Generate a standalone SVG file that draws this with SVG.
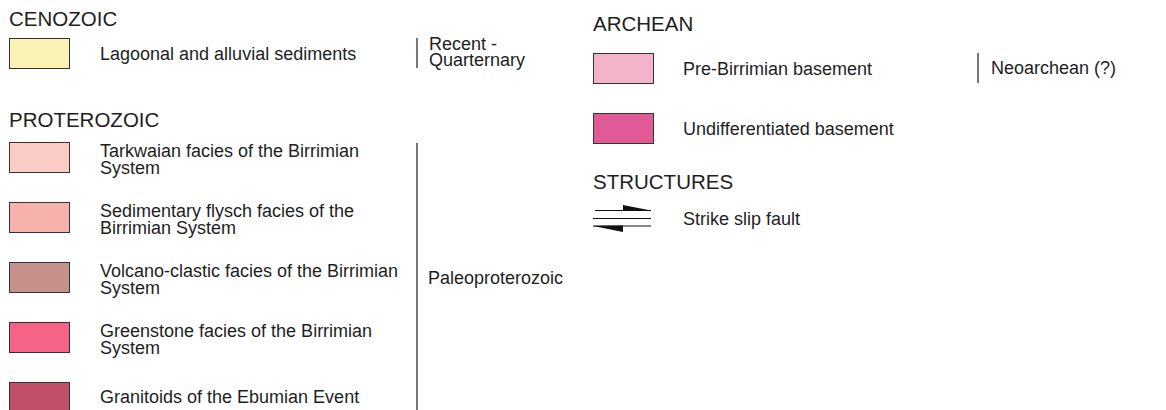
<svg xmlns="http://www.w3.org/2000/svg" width="1166" height="410" viewBox="0 0 1166 410">
<style>
text{font-family:"Liberation Sans",Arial,Helvetica,sans-serif;fill:#1e1e1e}
.t{font-size:20.5px}
.b{font-size:18px}
.sw{stroke:#333;stroke-width:1}
.bar{stroke:#555;stroke-width:1.6}
</style>
<rect width="1166" height="410" fill="#fff"/>
<g id="titles">
<text class="t" x="9" y="26">CENOZOIC</text>
<text class="t" x="9" y="127">PROTEROZOIC</text>
<text class="t" x="593" y="31">ARCHEAN</text>
<text class="t" x="593" y="189">STRUCTURES</text>
</g>
<g id="cenozoic-sediments">
<rect class="sw" x="9.5" y="38.5" width="60" height="30" fill="#FBF2B6"/>
<text class="b" x="100" y="60">Lagoonal and alluvial sediments</text>
</g>
<g id="tarkwaian">
<rect class="sw" x="9.5" y="142.5" width="60" height="30" fill="#FBCCC6"/>
<text class="b" x="100" y="157">Tarkwaian facies of the Birrimian</text>
<text class="b" x="100" y="174">System</text>
</g>
<g id="sedimentary">
<rect class="sw" x="9.5" y="202.5" width="60" height="30" fill="#F7B2AB"/>
<text class="b" x="100" y="217">Sedimentary flysch facies of the</text>
<text class="b" x="100" y="234">Birrimian System</text>
</g>
<g id="volcano">
<rect class="sw" x="9.5" y="262.5" width="60" height="30" fill="#C6918B"/>
<text class="b" x="100" y="277">Volcano-clastic facies of the Birrimian</text>
<text class="b" x="100" y="294">System</text>
</g>
<g id="greenstone">
<rect class="sw" x="9.5" y="322.5" width="60" height="30" fill="#F56386"/>
<text class="b" x="100" y="337">Greenstone facies of the Birrimian</text>
<text class="b" x="100" y="354">System</text>
</g>
<g id="granitoids">
<rect class="sw" x="9.5" y="382.5" width="60" height="30" fill="#C24F69"/>
<text class="b" x="100" y="403">Granitoids of the Ebumian Event</text>
</g>
<g id="pre-birrimian">
<rect class="sw" x="593.5" y="53.5" width="60" height="30" fill="#F2B3CB"/>
<text class="b" x="683" y="75">Pre-Birrimian basement</text>
</g>
<g id="undifferentiated">
<rect class="sw" x="593.5" y="113.5" width="60" height="30" fill="#DF5A96"/>
<text class="b" x="683" y="135">Undifferentiated basement</text>
</g>
<g id="strike-slip">
<line x1="595" y1="210.5" x2="651" y2="210.5" stroke="#111" stroke-width="1.2"/>
<polygon points="623,205 651,210.5 623,211" fill="#111"/>
<line x1="593" y1="218.5" x2="651" y2="218.5" stroke="#111" stroke-width="1.2"/>
<line x1="593" y1="226" x2="651" y2="226" stroke="#111" stroke-width="1.2"/>
<polygon points="593,226 623,225.5 623,232" fill="#111"/>
<text class="b" x="683" y="225">Strike slip fault</text>
</g>
<g id="connectors">
<line class="bar" x1="417" y1="38" x2="417" y2="68"/>
<line class="bar" x1="417" y1="143" x2="417" y2="410"/>
<line class="bar" x1="978" y1="53" x2="978" y2="83"/>
</g>
<g id="ages">
<text class="b" x="429" y="50">Recent -</text>
<text class="b" x="429" y="66">Quarternary</text>
<text class="b" x="428" y="284">Paleoproterozoic</text>
<text class="b" x="991" y="74">Neoarchean (?)</text>
</g>
</svg>
